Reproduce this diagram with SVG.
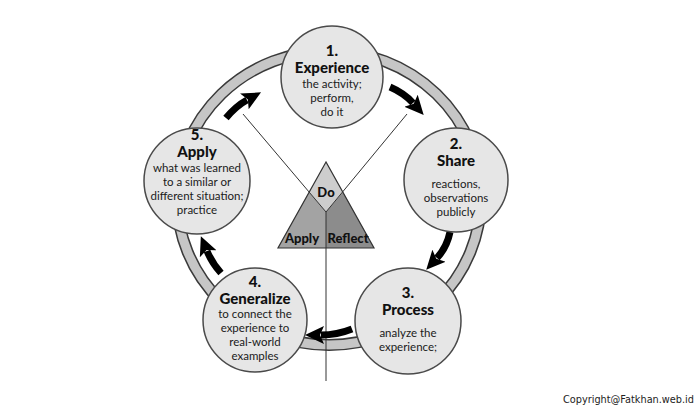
<svg xmlns="http://www.w3.org/2000/svg" width="700" height="409" viewBox="0 0 700 409">
  <style>
    .node circle { fill: #e6e6e6; stroke: #4a4a4a; stroke-width: 1.5; }
    .num { font-family: Lato, "Open Sans", sans-serif; font-weight: 900; font-size: 15px; fill: #111; text-anchor: middle; }
    .title { font-family: Lato, "Open Sans", sans-serif; font-weight: 900; font-size: 15px; fill: #111; text-anchor: middle; }
    .body { font-family: Lato, "Open Sans", sans-serif; font-size: 11.5px; fill: #1a1a1a; text-anchor: middle; }
    .tri { font-family: Lato, "Open Sans", sans-serif; font-weight: 900; font-size: 13px; fill: #111; text-anchor: middle; }
    .line { stroke: #333; stroke-width: 1; fill: none; }
    .arrow { stroke: #000; stroke-width: 7; fill: none; marker-end: url(#head); }
  </style>
  <defs>
    <marker id="head" markerUnits="userSpaceOnUse" markerWidth="20" markerHeight="20" refX="3" refY="10" orient="auto">
      <path d="M0,1 L19,10 L0,19 L4,10 z" fill="#000"/>
    </marker>
  </defs>
  <rect width="700" height="409" fill="#fff"/>

  <g id="ring">
    <ellipse cx="329" cy="198" rx="152" ry="147" fill="none" stroke="#3a3a3a" stroke-width="12"/>
    <ellipse cx="329" cy="198" rx="152" ry="147" fill="none" stroke="#c6c6c6" stroke-width="9"/>
  </g>

  <g id="triangle">
    <polygon points="326,162 309,192 326,212 343,192" fill="#cdcdcd"/>
    <polygon points="309,192 326,212 326,248 278,248" fill="#a3a3a3"/>
    <polygon points="343,192 326,212 326,248 374,248" fill="#8c8c8c"/>
    <polygon points="326,162 278,248 374,248" fill="none" stroke="#333" stroke-width="1.2"/>
    <text class="tri" x="326" y="197" font-size="12">Do</text>
    <text class="tri" x="302" y="243">Apply</text>
    <text class="tri" x="348" y="243">Reflect</text>
  </g>

  <g id="connectors">
    <path class="line" d="M243,114 L326,212 L407,114"/>
    <path class="line" d="M326,212 L326,381"/>
    <path class="arrow" d="M390,87 Q404,93 413,103"/>
    <path class="arrow" d="M450,232 Q447,247 437,258"/>
    <path class="arrow" d="M352,329 Q337,335 321,335"/>
    <path class="arrow" d="M221,273 Q212,263 207,251"/>
    <path class="arrow" d="M226,118 Q236,106 247,100"/>
  </g>

  <g id="node-1" class="node">
    <circle cx="332" cy="77" r="51"/>
    <text class="num" x="332" y="56">1.</text>
    <text class="title" x="332" y="73">Experience</text>
    <text class="body" x="332" y="88">the activity;</text>
    <text class="body" x="332" y="102">perform,</text>
    <text class="body" x="332" y="116">do it</text>
  </g>

  <g id="node-2" class="node">
    <circle cx="456" cy="180" r="52"/>
    <text class="num" x="456" y="149">2.</text>
    <text class="title" x="456" y="166">Share</text>
    <text class="body" x="456" y="188">reactions,</text>
    <text class="body" x="456" y="202">observations</text>
    <text class="body" x="456" y="216">publicly</text>
  </g>

  <g id="node-3" class="node">
    <circle cx="408" cy="321" r="53"/>
    <text class="num" x="408" y="298">3.</text>
    <text class="title" x="408" y="314.5">Process</text>
    <text class="body" x="408" y="337">analyze the</text>
    <text class="body" x="408" y="351">experience;</text>
  </g>

  <g id="node-4" class="node">
    <circle cx="255" cy="320" r="52"/>
    <text class="num" x="255" y="287">4.</text>
    <text class="title" x="255" y="303.5">Generalize</text>
    <text class="body" x="255" y="318">to connect the</text>
    <text class="body" x="255" y="332">experience to</text>
    <text class="body" x="255" y="346">real-world</text>
    <text class="body" x="255" y="360">examples</text>
  </g>

  <g id="node-5" class="node">
    <circle cx="197" cy="181" r="53"/>
    <text class="num" x="197" y="140">5.</text>
    <text class="title" x="197" y="157">Apply</text>
    <text class="body" x="197" y="171.5">what was learned</text>
    <text class="body" x="197" y="185.5">to a similar or</text>
    <text class="body" x="197" y="199.5">different situation;</text>
    <text class="body" x="197" y="213.5">practice</text>
  </g>

  <text x="563" y="403" font-family="'DejaVu Sans', sans-serif" font-size="10" fill="#222" textLength="131" lengthAdjust="spacingAndGlyphs">Copyright@Fatkhan.web.id</text>
</svg>
